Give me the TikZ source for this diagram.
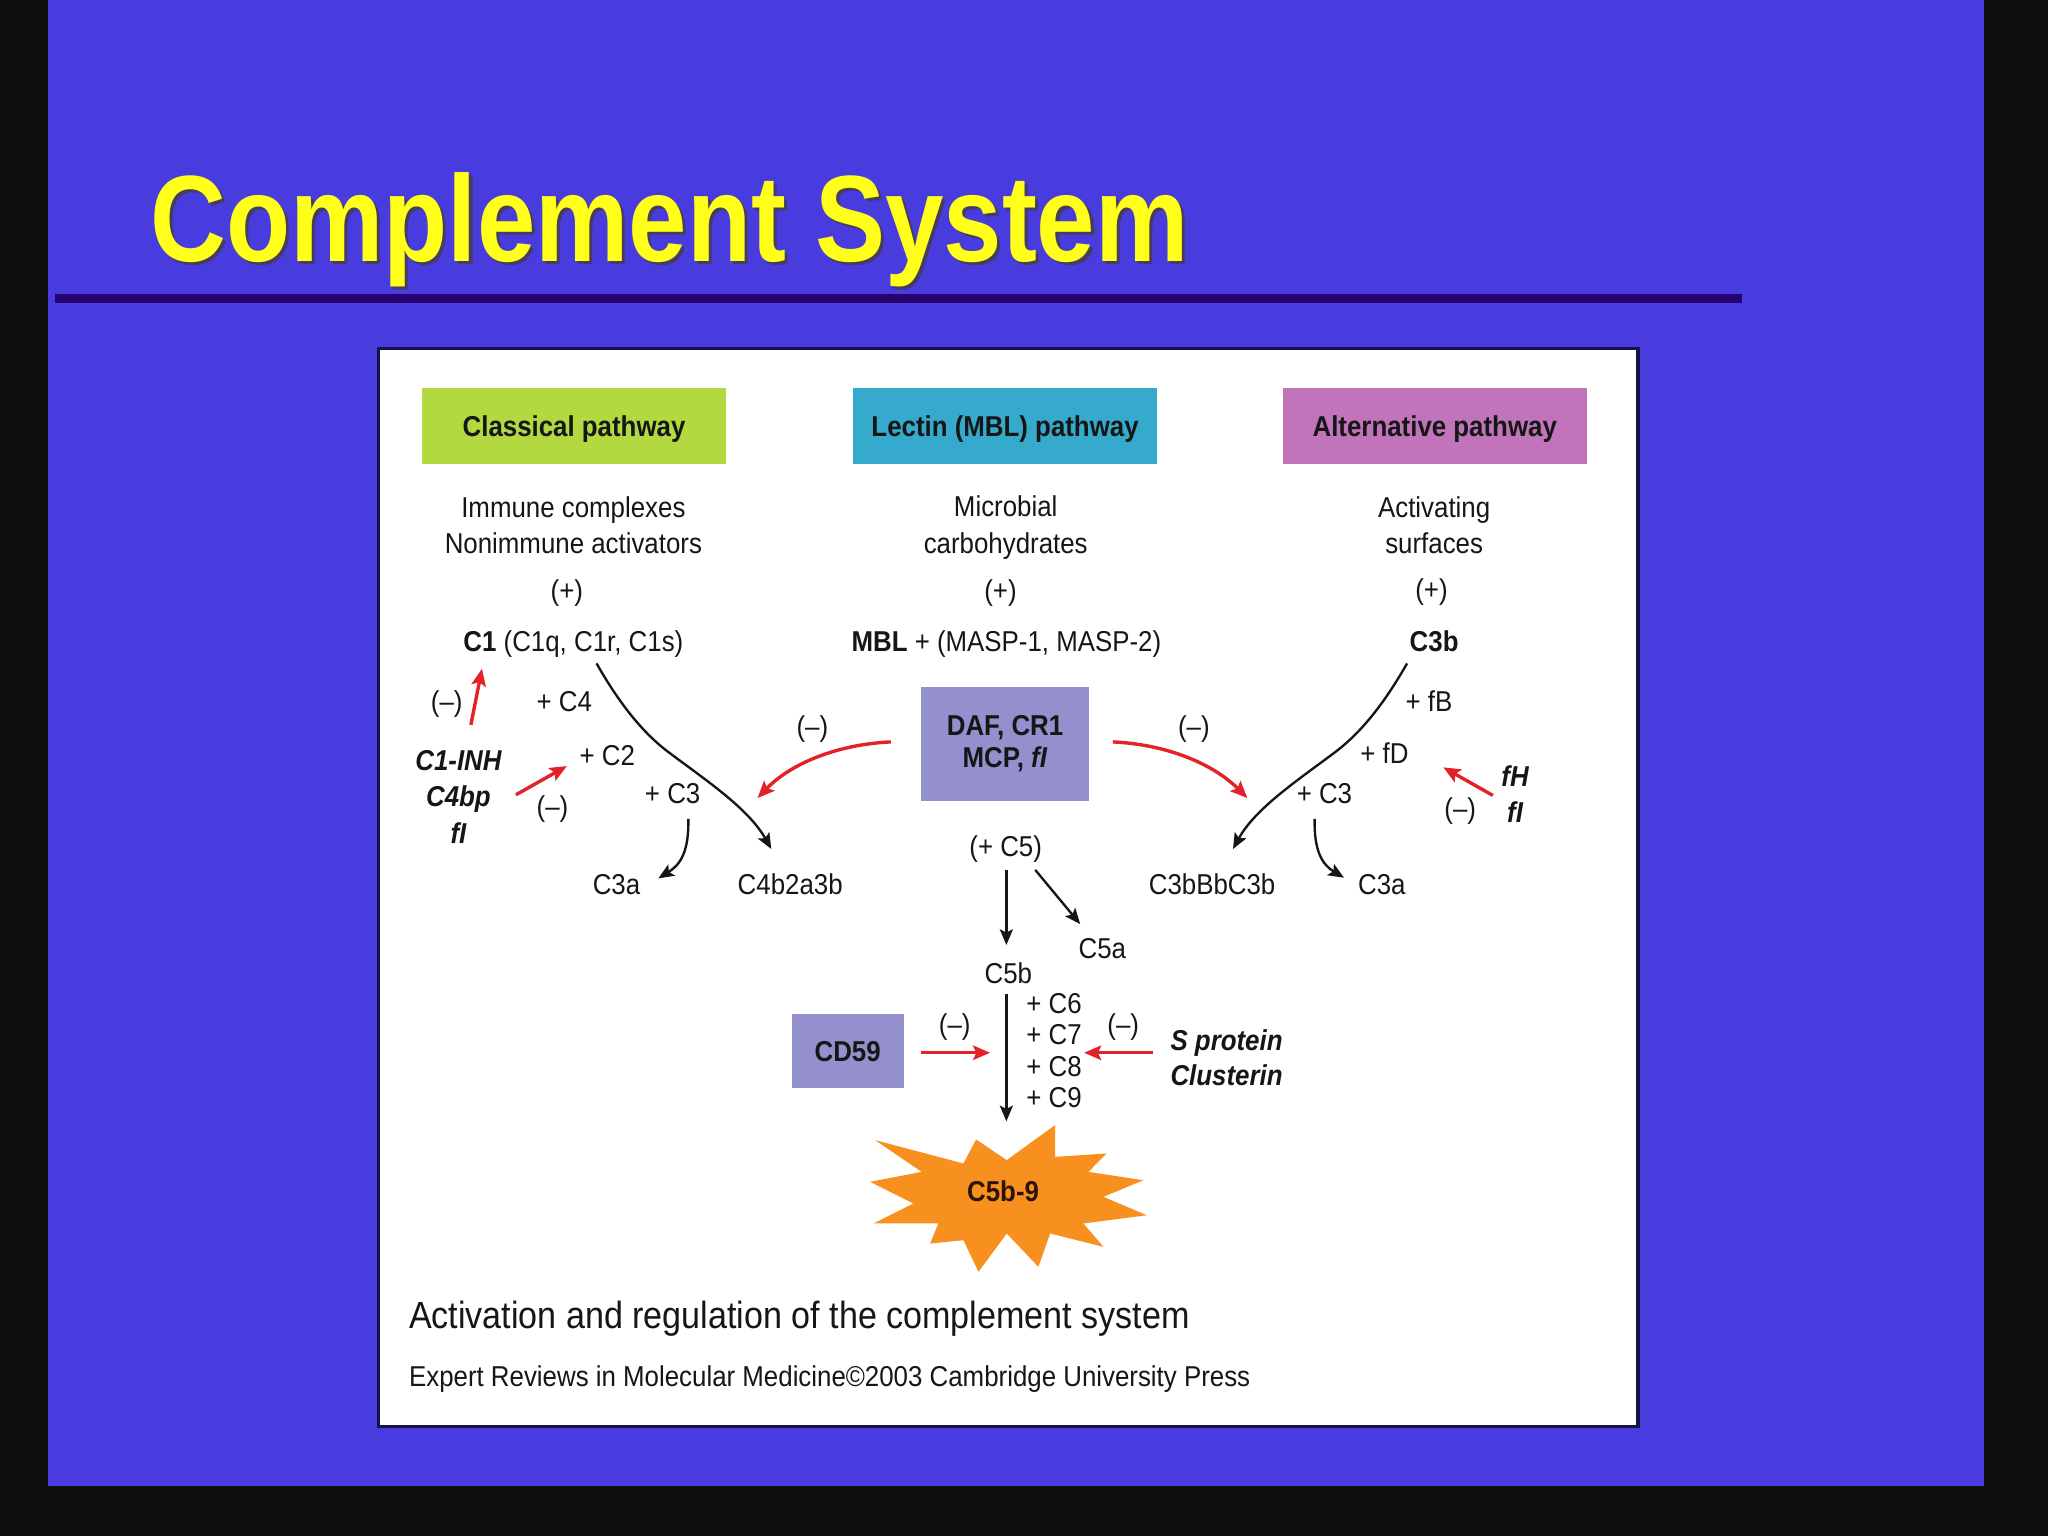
\documentclass[tikz,border=0pt]{standalone}
\usepackage{fontspec}
\newfontfamily\nar[FakeStretch=0.9]{Liberation Sans}
\newfontfamily\ttlf[FakeStretch=0.855]{Liberation Sans}
\usetikzlibrary{arrows.meta}
\definecolor{bgblue}{RGB}{72,60,222}
\definecolor{rulec}{RGB}{38,4,112}
\definecolor{ttlyel}{RGB}{255,255,25}
\definecolor{ttlsh}{RGB}{70,60,95}
\definecolor{ink}{RGB}{22,22,22}
\definecolor{cgreen}{RGB}{178,218,64}
\definecolor{ccyan}{RGB}{53,170,205}
\definecolor{cpink}{RGB}{193,116,186}
\definecolor{cviolet}{RGB}{148,144,205}
\definecolor{corange}{RGB}{247,144,30}
\definecolor{cred}{RGB}{226,34,40}
\definecolor{framec}{RGB}{25,20,70}
\definecolor{burstink}{RGB}{45,20,10}
\newcommand\myfs{\fontsize{22}{28}\selectfont}
\begin{document}
\begin{tikzpicture}[x=1pt,y=-1pt,
  lbl/.style={inner sep=0pt,text=ink,font=\nar\myfs,text height=15.8pt,text depth=0pt},
  blbl/.style={lbl,font=\nar\bfseries\myfs},
  bilbl/.style={lbl,font=\nar\bfseries\itshape\myfs},
  multi/.style={inner sep=0pt,text=ink,align=center,font=\nar\myfs},
  pathbox/.style={minimum width=233pt,minimum height=58pt,inner sep=0pt,font=\nar\bfseries\myfs,text=ink,text height=15.8pt,text depth=0pt},
  arr/.style={draw=ink,line width=1.8pt,-{Stealth[length=12pt,width=10pt,inset=2.5pt]}},
  rarr/.style={draw=cred,line width=2.6pt,-{Stealth[length=13pt,width=11pt,inset=2.5pt]}},
]
\useasboundingbox (0,0) rectangle (1568,1176);
\fill[black!94] (0,0) rectangle (1568,1176);
\fill[bgblue] (37,0) rectangle (1519,1138);
% title
\node[anchor=base west,inner sep=0pt,text=ttlsh,font=\ttlf\bfseries\fontsize{94}{100}\selectfont] (titlesh) at (117.5,202.5) {Complement System};
\node[anchor=base west,inner sep=0pt,text=ttlyel,font=\ttlf\bfseries\fontsize{94}{100}\selectfont] (title) at (115,200) {Complement System};
\fill[rulec] (42,225) rectangle (1334,232);
% panel
\draw[framec,line width=2.5pt,fill=white] (290,267) rectangle (1254,1092);
% pathway headers
\node[pathbox,fill=cgreen] (classical) at (439.5,326) {Classical pathway};
\node[pathbox,fill=ccyan] (lectin) at (769.5,326) {Lectin (MBL) pathway};
\node[pathbox,fill=cpink] (alt) at (1098.5,326) {Alternative pathway};
% activators
\node[multi] (immune) at (439,402) {Immune complexes\\Nonimmune activators};
\node[multi] (microb) at (770,404) {Microbial\\carbohydrates};
\node[multi] (surf) at (1098,402) {Activating\\surfaces};
\node[lbl] (p1) at (434,452) {(+)};
\node[lbl] (p2) at (766,452) {(+)};
\node[lbl] (p3) at (1096,451) {(+)};
\node[lbl] (c1) at (439,491) {\textbf{C1} (C1q, C1r, C1s)};
\node[lbl] (mbl) at (770.5,491) {\textbf{MBL} + (MASP-1, MASP-2)};
\node[blbl] (c3b) at (1098,491) {C3b};
% regulator box
\node[fill=cviolet,minimum width=129pt,minimum height=87pt,inner sep=0pt,align=center,text=ink,font=\nar\bfseries\fontsize{22}{25}\selectfont] (daf) at (769.5,569.5) {DAF, CR1\\MCP, \textit{fI}};
% classical labels
\node[lbl] (mC4) at (432,537) {+ C4};
\node[lbl] (mC2) at (465,578) {+ C2};
\node[lbl] (mC3l) at (515,607) {+ C3};
\node[lbl] (n1) at (342,537) {(–)};
\node[lbl] (n2) at (423,617) {(–)};
\node[lbl] (n3) at (622,556) {(–)};
\node[multi,font=\nar\bfseries\itshape\myfs] (inh) at (351,610) {C1-INH\\C4bp\\fI};
\node[lbl] (c3al) at (472,677) {C3a};
\node[lbl] (c4b) at (605,677) {C4b2a3b};
% alternative labels
\node[lbl] (mfB) at (1094,537) {+ fB};
\node[lbl] (mfD) at (1060,577) {+ fD};
\node[lbl] (mC3r) at (1014,607) {+ C3};
\node[lbl] (n4) at (914,556) {(–)};
\node[lbl] (n5) at (1118,619) {(–)};
\node[multi,font=\nar\bfseries\itshape\myfs] (fh) at (1160,608) {fH\\fI};
\node[lbl] (c3bb) at (928,677) {C3bBbC3b};
\node[lbl] (c3ar) at (1058,677) {C3a};
% terminal pathway
\node[lbl] (pc5) at (770,648) {(+ C5)};
\node[lbl] (c5a) at (844,726) {C5a};
\node[lbl] (c5b) at (772,745) {C5b};
\node[lbl] (mC6) at (807,768) {+ C6};
\node[lbl] (mC7) at (807,792) {+ C7};
\node[lbl] (mC8) at (807,816) {+ C8};
\node[lbl] (mC9) at (807,840) {+ C9};
\node[fill=cviolet,minimum width=86pt,minimum height=57pt,inner sep=0pt,font=\nar\bfseries\myfs,text=ink,text height=15.8pt,text depth=0pt] (cd59) at (649,804.5) {CD59};
\node[lbl] (n6) at (731,784) {(–)};
\node[lbl] (n7) at (860,784) {(–)};
\node[inner sep=0pt,text=ink,align=left,anchor=west,font=\nar\bfseries\itshape\fontsize{22}{27}\selectfont] (sprot) at (896,810) {S protein\\Clusterin};
% starburst
\fill[corange] (666.1,904.8) -- (705.7,897.2) -- (670,872.9) -- (737.6,890.8) -- (747.3,872.4) -- (770.8,888.2) -- (807.8,861.4) -- (807.8,885.7) -- (847.3,883.1) -- (833.3,897.2) -- (875.4,903.6) -- (844.8,916.3) -- (878,930.4) -- (829.5,936.7) -- (844.8,954.6) -- (804,944.4) -- (795,969.9) -- (770.8,944.4) -- (749.1,973.7) -- (737.6,949.5) -- (712.1,952.1) -- (718.4,936.7) -- (668.7,936.7) -- (699.3,921.4) -- cycle;
\node[blbl,text=burstink] (c5b9) at (768,912) {C5b-9};
% caption
\node[lbl,anchor=west,font=\nar\fontsize{29}{34}\selectfont,text height=20.8pt] (caption) at (313,1007) {Activation and regulation of the complement system};
\node[lbl,anchor=west] (credit) at (313,1054) {Expert Reviews in Molecular Medicine©2003 Cambridge University Press};
% connector end points
\coordinate (clS) at (456.7,507.9);
\coordinate (clE) at (590.5,650);
\coordinate (alS) at (1077.3,507.9);
\coordinate (alE) at (944,650);
\coordinate (c3lS) at (527,627);
\coordinate (c3lE) at (504,672.5);
\coordinate (c3rS) at (1006.5,627);
\coordinate (c3rE) at (1029,672);
\coordinate (rlS) at (682,568);
\coordinate (rlE) at (580,611);
\coordinate (rrS) at (852,568);
\coordinate (rrE) at (955,611);
\coordinate (inhS) at (360.5,555);
\coordinate (inhE) at (369,512);
\coordinate (c4bpS) at (395,608.5);
\coordinate (c4bpE) at (434,586.5);
\coordinate (fhS) at (1143,609);
\coordinate (fhE) at (1105,587.5);
\coordinate (c5S) at (770.5,666);
\coordinate (c5E) at (770.5,723.5);
\coordinate (c5aS) at (792.6,666);
\coordinate (c5aE) at (827,707.5);
\coordinate (macS) at (770.5,761);
\coordinate (macE) at (770.5,858.5);
\coordinate (cdS) at (705,806);
\coordinate (cdE) at (758,806);
\coordinate (spS) at (883,806);
\coordinate (spE) at (830,806);
% black connectors
\draw[arr] (clS) .. controls (471.2,533.2) and (488.8,558.6) .. (512,576) .. controls (540.8,597.6) and (573.1,619.1) .. (clE);
\draw[arr] (alS) .. controls (1062.8,533.2) and (1045.2,558.6) .. (1022,576) .. controls (993.2,597.6) and (960.9,619.1) .. (alE);
\draw[arr] (c3lS) .. controls (527.5,652) and (521,662) .. (c3lE);
\draw[arr] (c3rS) .. controls (1006,652) and (1012.5,662) .. (c3rE);
\draw[arr] (c5S) -- (c5E);
\draw[arr] (c5aS) -- (c5aE);
\draw[arr] (macS) -- (macE);
% red inhibitory connectors
\draw[rarr] (rlS) .. controls (640,570) and (605,585) .. (rlE);
\draw[rarr] (rrS) .. controls (894,570) and (929,585) .. (rrE);
\draw[rarr] (inhS) -- (inhE);
\draw[rarr] (c4bpS) -- (c4bpE);
\draw[rarr] (fhS) -- (fhE);
\draw[rarr] (cdS) -- (cdE);
\draw[rarr] (spS) -- (spE);
\end{tikzpicture}
\end{document}
